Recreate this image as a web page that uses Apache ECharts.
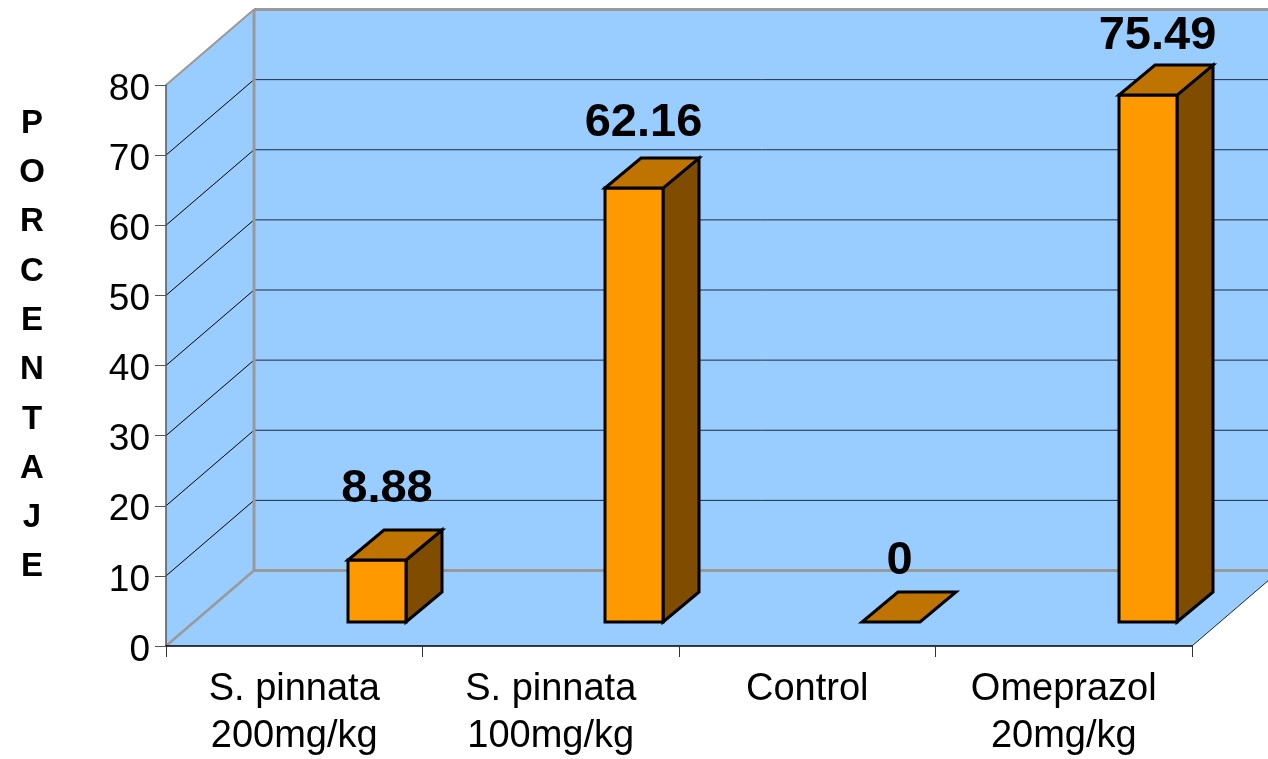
<!DOCTYPE html>
<html>
<head>
<meta charset="utf-8">
<style>html,body{margin:0;padding:0;background:#fff}#c{width:1268px;height:759px}</style>
<script src="https://cdn.jsdelivr.net/npm/echarts@6/dist/echarts.min.js"></script>
</head>
<body>
<div id="c"></div>
<script>
const categories = ['S. pinnata\n200mg/kg', 'S. pinnata\n100mg/kg', 'Control', 'Omeprazol\n20mg/kg'];
const values = [8.88, 62.16, 0, 75.49];
const yTicks = [0, 10, 20, 30, 40, 50, 60, 70, 80];
const yTitle = 'PORCENTAJE';

const WALL_DX = 88, WALL_DY = -75.5;
const BAR_W = 58, BAR_DX = 36, BAR_DY = -30;
const LABEL_LIFT = [73, 67, 63, 61];
const LABEL_SHIFT = [10, 9.5, 8.5, 9.5];
const FONT = '"Liberation Sans", Arial, sans-serif';

const chart = echarts.init(document.getElementById('c'), null, {renderer: 'canvas'});

function poly(points, fill, stroke, width) {
  return {type: 'polygon', shape: {points}, style: {fill, stroke, lineWidth: width, lineJoin: 'miter'}, silent: true};
}
function line(x1, y1, x2, y2, stroke, width) {
  return {type: 'line', shape: {x1, y1, x2, y2}, style: {stroke, lineWidth: width}, silent: true};
}

function renderWalls(params, api) {
  const cs = params.coordSys;
  const L = cs.x, R = cs.x + cs.width;
  const y0 = api.coord([0, 0])[1], yMax = api.coord([0, 80])[1];
  const dx = WALL_DX, dy = WALL_DY;
  const kids = [];
  kids.push(poly([[L + dx, yMax + dy], [R + dx, yMax + dy], [R + dx, y0 + dy], [L + dx, y0 + dy]], '#99CCFF', 'none', 0));
  kids.push(poly([[L, yMax], [L + dx, yMax + dy], [L + dx, y0 + dy], [L, y0]], '#99CCFF', 'none', 0));
  kids.push(poly([[L, y0], [R, y0], [R + dx, y0 + dy], [L + dx, y0 + dy]], '#99CCFF', 'none', 0));
  yTicks.forEach(function (t) {
    if (t === 0 || t === 80) return;
    const y = api.coord([0, t])[1];
    kids.push(line(L, y, L + dx, y + dy, '#000', 1));
    kids.push(line(L + dx, y + dy, R + dx, y + dy, '#1c2c40', 1));
  });
  kids.push(line(L + dx, yMax + dy, R + dx, yMax + dy, '#999', 3));
  kids.push(line(L + dx, yMax + dy, L + dx, y0 + dy, '#999', 3));
  kids.push(line(L, yMax, L + dx, yMax + dy, '#999', 2));
  kids.push(line(L, y0, L + dx, y0 + dy, '#999', 2.5));
  kids.push(line(L + dx, y0 + dy, R + dx, y0 + dy, '#999', 3));
  kids.push(line(R, y0, R + dx, y0 + dy, '#222', 1));
  return {type: 'group', children: kids};
}

function renderBar(params, api) {
  const i = api.value(0), v = api.value(1);
  const top = api.coord([i, v]), base = api.coord([i, 0]);
  const xl = top[0] - BAR_W / 2, xr = top[0] + BAR_W / 2;
  const yt = top[1], yb = base[1];
  const kids = [];
  if (v > 0) {
    kids.push(poly([[xr, yt], [xr + BAR_DX, yt + BAR_DY], [xr + BAR_DX, yb + BAR_DY], [xr, yb]], '#804D00', '#000', 3));
    kids.push(poly([[xl, yt], [xr, yt], [xr, yb], [xl, yb]], '#FF9900', '#000', 3));
  }
  kids.push(poly([[xl, yt], [xr, yt], [xr + BAR_DX, yt + BAR_DY], [xl + BAR_DX, yt + BAR_DY]], '#BF7300', '#000', 3));
  kids.push({
    type: 'text', silent: true,
    style: {
      x: top[0] + LABEL_SHIFT[i], y: yt - LABEL_LIFT[i] + 2,
      text: String(v), align: 'center', verticalAlign: 'middle',
      font: 'bold 47px ' + FONT, fill: '#000'
    }
  });
  return {type: 'group', children: kids};
}

chart.setOption({
  animation: false,
  backgroundColor: '#fff',
  textStyle: {fontFamily: FONT},
  title: {
    text: yTitle.split('').join('\n'),
    left: 32, top: 99,
    textAlign: 'center',
    textStyle: {fontFamily: FONT, fontWeight: 'bold', fontSize: 33, lineHeight: 49.3, color: '#000'},
    padding: 0
  },
  grid: [
    {left: 166, top: 85, width: 1026, height: 561, containLabel: false, outerBoundsMode: 'none'},
    {left: 248.5, top: 63.6, width: 1028, height: 558.4, containLabel: false, outerBoundsMode: 'none'}
  ],
  xAxis: [
    {
      type: 'category', gridIndex: 0, data: categories, z: 5,
      axisLine: {lineStyle: {color: '#000', width: 1.5}},
      axisTick: {show: true, length: 11, lineStyle: {color: '#333', width: 1}},
      axisLabel: {interval: 0, fontSize: 38, lineHeight: 47, color: '#000', margin: 20, fontFamily: FONT},
      splitLine: {show: false}
    },
    {type: 'category', gridIndex: 1, data: categories, show: false}
  ],
  yAxis: [
    {
      type: 'value', gridIndex: 0, min: 0, max: 80, interval: 10, z: 5,
      axisLine: {show: true, lineStyle: {color: '#555', width: 1.5}},
      axisTick: {show: true, length: 11, lineStyle: {color: '#555', width: 1}},
      axisLabel: {
        margin: 16,
        formatter: '{n|{value}}',
        rich: {n: {fontSize: 37, color: '#000', fontFamily: FONT, padding: [9, 0, 0, 0]}}
      },
      splitLine: {show: false}
    },
    {type: 'value', gridIndex: 1, min: 0, max: 80, interval: 10, show: false, splitLine: {show: false}}
  ],
  series: [
    {
      type: 'custom', xAxisIndex: 0, yAxisIndex: 0, z: 1, clip: false, silent: true,
      renderItem: renderWalls, data: [[0, 0]],
      encode: {x: 0, y: 1}
    },
    {
      type: 'custom', xAxisIndex: 1, yAxisIndex: 1, z: 6, clip: false, silent: true,
      renderItem: renderBar,
      data: values.map(function (v, i) { return [i, v]; }),
      encode: {x: 0, y: 1}
    }
  ]
});
</script>
</body>
</html>
